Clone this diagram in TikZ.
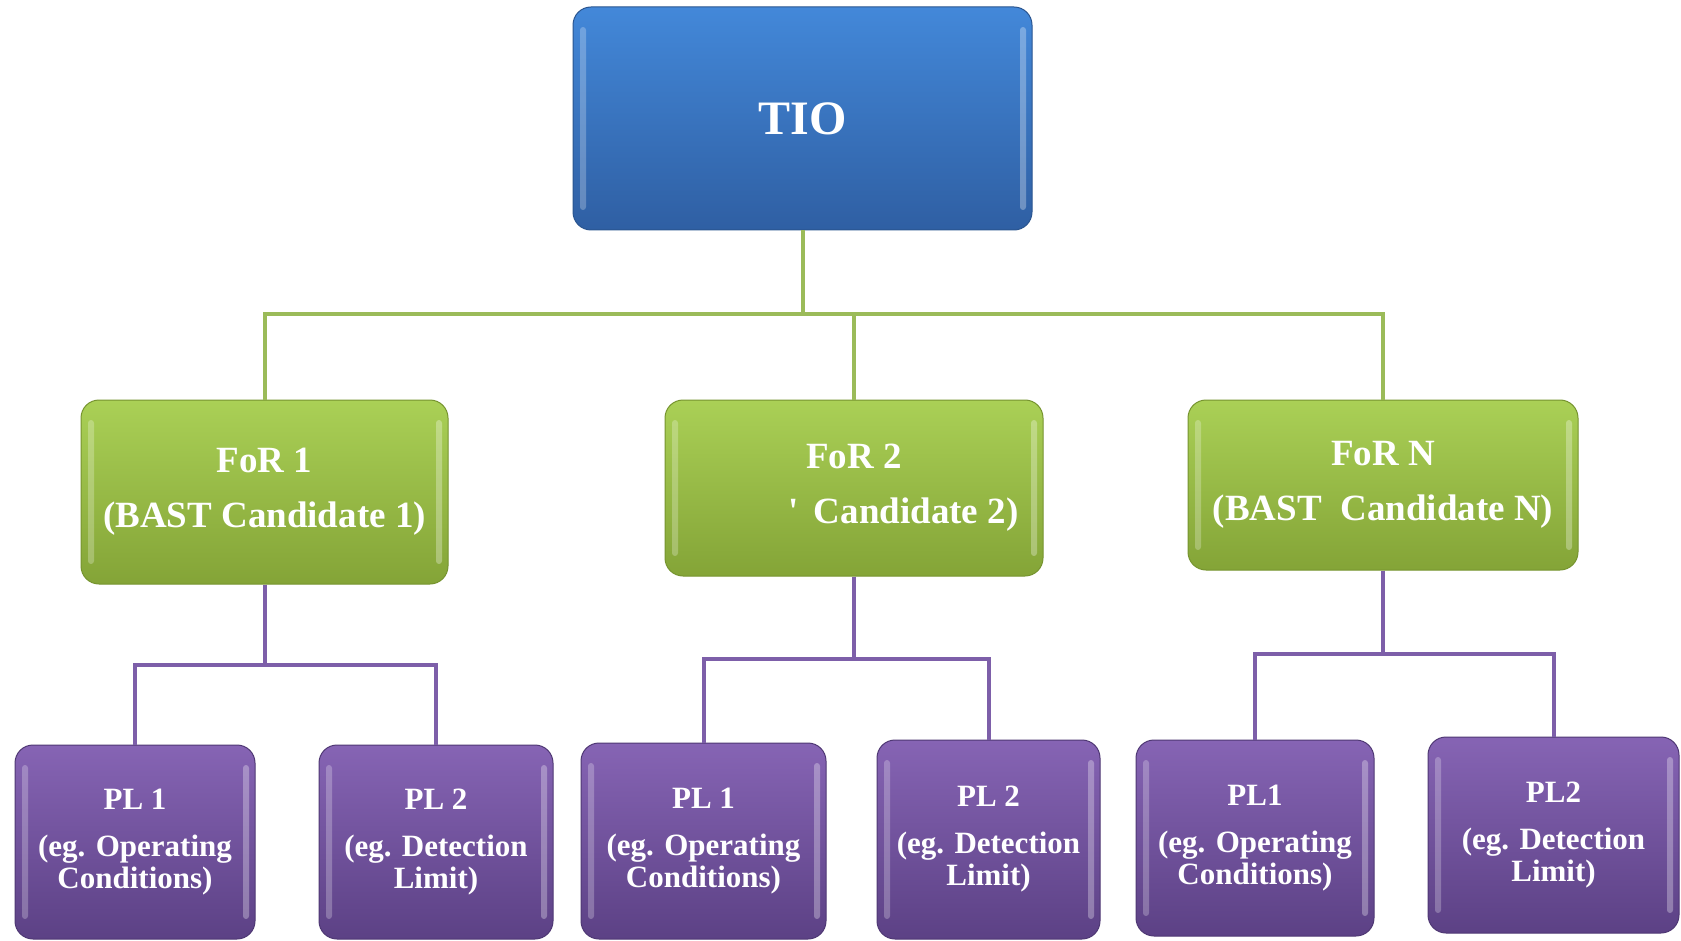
\documentclass[tikz,border=0pt]{standalone}
\usepackage{fontspec}
\setmainfont{Liberation Serif}
\usetikzlibrary{calc}
\definecolor{bluetop}{HTML}{4388D9}
\definecolor{bluebot}{HTML}{2F5FA3}
\definecolor{blueedge}{HTML}{2A5590}
\definecolor{greentop}{HTML}{AAD056}
\definecolor{greenbot}{HTML}{84A437}
\definecolor{greenedge}{HTML}{76942F}
\definecolor{purptop}{HTML}{8664B4}
\definecolor{purpbot}{HTML}{5C4185}
\definecolor{purpedge}{HTML}{4F3874}
\definecolor{gl}{HTML}{9BBB59}
\definecolor{pl}{HTML}{7D5FA9}
\tikzset{
    box/.style =    {rectangle,
                    rounded corners=18pt,
                    text=white,
                    align=center,
                    line width=1pt,
                    path picture={
                        \fill[white,opacity=0.25,rounded corners=3pt]
                            ([xshift=7pt,yshift=-20pt]path picture bounding box.north west)
                            rectangle ([xshift=13pt,yshift=20pt]path picture bounding box.south west);
                        \fill[white,opacity=0.3,rounded corners=3pt]
                            ([xshift=-12pt,yshift=-20pt]path picture bounding box.north east)
                            rectangle ([xshift=-6pt,yshift=20pt]path picture bounding box.south east);
                    }},
    tio/.style =    {box,
                    top color=bluetop,
                    bottom color=bluebot,
                    draw=blueedge,
                    font=\bfseries\fontsize{48}{50}\selectfont},
    forbox/.style = {box,
                    top color=greentop,
                    bottom color=greenbot,
                    draw=greenedge,
                    font=\bfseries\fontsize{37}{38}\selectfont},
    plbox/.style =  {box,
                    top color=purptop,
                    bottom color=purpbot,
                    draw=purpedge,
                    font=\bfseries\fontsize{31}{32}\selectfont},
    gline/.style =  {draw=gl, line width=4pt},
    pline/.style =  {draw=pl, line width=4pt}
}
\begin{document}
\begin{tikzpicture}[x=1pt,y=-1pt]
        \clip (0,0) rectangle (1681,941);
        \fill[white] (0,0) rectangle (1681,941);
        % top
        \node[tio,minimum width=459pt,minimum height=223pt]     (T)   at (802.5,118.5)  {TIO};
        % fields of research
        \node[forbox,minimum width=367pt,minimum height=184pt]  (F1)  at (264.5,492)    {FoR 1\\[17pt](BAST Candidate 1)};
        \node[forbox,minimum width=378pt,minimum height=176pt]  (F2)  at (854,488)      {FoR 2\\[17pt]\phantom{(BAST}\llap{\textquotesingle}\hspace{6pt} Candidate 2)};
        \node[forbox,minimum width=390pt,minimum height=170pt]  (FN)  at (1383,485)     {FoR N\\[17pt](BAST\ \ Candidate N)};
        % parameters
        \node[plbox,minimum width=240pt,minimum height=194pt]   (P11) at (135,842)      {PL 1\\[15pt](eg. Operating\\Conditions)};
        \node[plbox,minimum width=234pt,minimum height=194pt]   (P12) at (436,842)      {PL 2\\[15pt](eg. Detection\\Limit)};
        \node[plbox,minimum width=245pt,minimum height=196pt]   (P21) at (703.5,841)    {PL 1\\[15pt](eg. Operating\\Conditions)};
        \node[plbox,minimum width=223pt,minimum height=199pt]   (P22) at (988.5,839.5)  {PL 2\\[15pt](eg. Detection\\Limit)};
        \node[plbox,minimum width=238pt,minimum height=196pt]   (PN1) at (1255,838)     {PL1\\[15pt](eg. Operating\\Conditions)};
        \node[plbox,minimum width=251pt,minimum height=196pt]   (PN2) at (1553.5,835)   {PL2\\[15pt](eg. Detection\\Limit)};
        % junctions
        \coordinate (bus) at (802.5,314);
        \coordinate (j1)  at (264.5,665);
        \coordinate (j2)  at (854,659);
        \coordinate (jN)  at (1383,654);
        \draw[gline] (T.south) -- (bus) -| (F1.north);
        \draw[gline] (T.south) -- (bus) -| (F2.north);
        \draw[gline] (T.south) -- (bus) -| (FN.north);
        \draw[pline] (F1.south) -- (j1) -| (P11.north);
        \draw[pline] (F1.south) -- (j1) -| (P12.north);
        \draw[pline] (F2.south) -- (j2) -| (P21.north);
        \draw[pline] (F2.south) -- (j2) -| (P22.north);
        \draw[pline] (FN.south) -- (jN) -| (PN1.north);
        \draw[pline] (FN.south) -- (jN) -| (PN2.north);
\end{tikzpicture}
\end{document}
